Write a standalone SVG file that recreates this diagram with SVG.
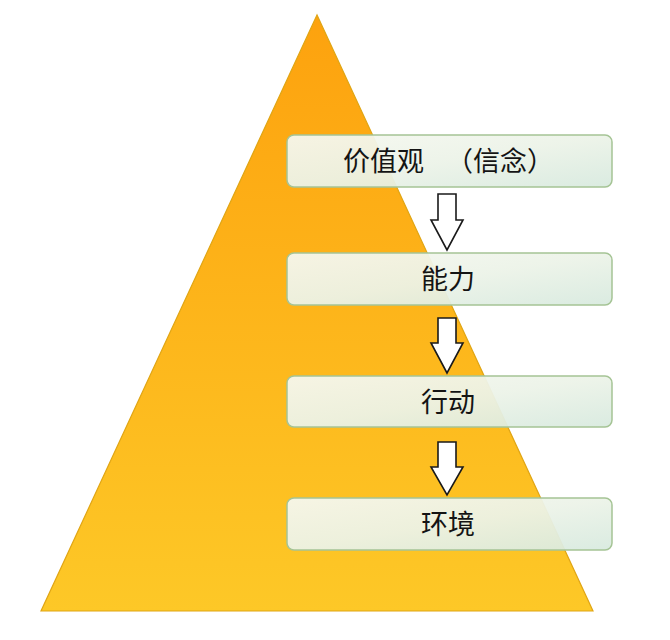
<svg xmlns="http://www.w3.org/2000/svg" width="670" height="640" viewBox="0 0 670 640">
<defs>
<linearGradient id="tri" x1="0" y1="0" x2="0" y2="1">
<stop offset="0" stop-color="#FDA20E"/>
<stop offset="1" stop-color="#FDC827"/>
</linearGradient>
<linearGradient id="box" x1="0" y1="0" x2="1" y2="1">
<stop offset="0" stop-color="#F6F8F0"/>
<stop offset="0.5" stop-color="#ECF3E8"/>
<stop offset="1" stop-color="#D8EADF"/>
</linearGradient>
<style>
.box{fill:url(#box);fill-opacity:0.94;stroke:#A5C495;stroke-width:1.5}
.lbl{font-family:"Noto Sans CJK SC","Noto Sans",sans-serif;font-size:27px;fill:#141414;dominant-baseline:central}
.arr{fill:#ffffff;stroke:#1a1a1a;stroke-width:1.6;stroke-linejoin:miter}
</style>
</defs>
<rect width="670" height="640" fill="#ffffff"/>
<g id="pyramid">
<polygon points="317,15 41,611 593,611" fill="url(#tri)" stroke="#E0A514" stroke-width="1.2"/>
</g>
<g id="connectors">
<polygon class="arr" points="438,194 456,194 456,220 463,220 447,250 431,220 438,220"/>
<polygon class="arr" points="438,318 456,318 456,343 463,343 447,373 431,343 438,343"/>
<polygon class="arr" points="438,442 456,442 456,467 463,467 447,495 431,467 438,467"/>
</g>
<g id="node-values">
<rect class="box" x="287" y="135" width="325" height="52" rx="7"/>
<text class="lbl" x="343" y="159">价值观 <tspan x="446">（信念）</tspan></text>
</g>
<g id="node-ability">
<rect class="box" x="287" y="253" width="325" height="52" rx="7"/>
<text class="lbl" x="448" y="277" text-anchor="middle">能力</text>
</g>
<g id="node-action">
<rect class="box" x="287" y="376" width="325" height="51" rx="7"/>
<text class="lbl" x="448" y="400" text-anchor="middle">行动</text>
</g>
<g id="node-environment">
<rect class="box" x="287" y="498" width="325" height="52" rx="7"/>
<text class="lbl" x="448" y="522" text-anchor="middle">环境</text>
</g>
</svg>
